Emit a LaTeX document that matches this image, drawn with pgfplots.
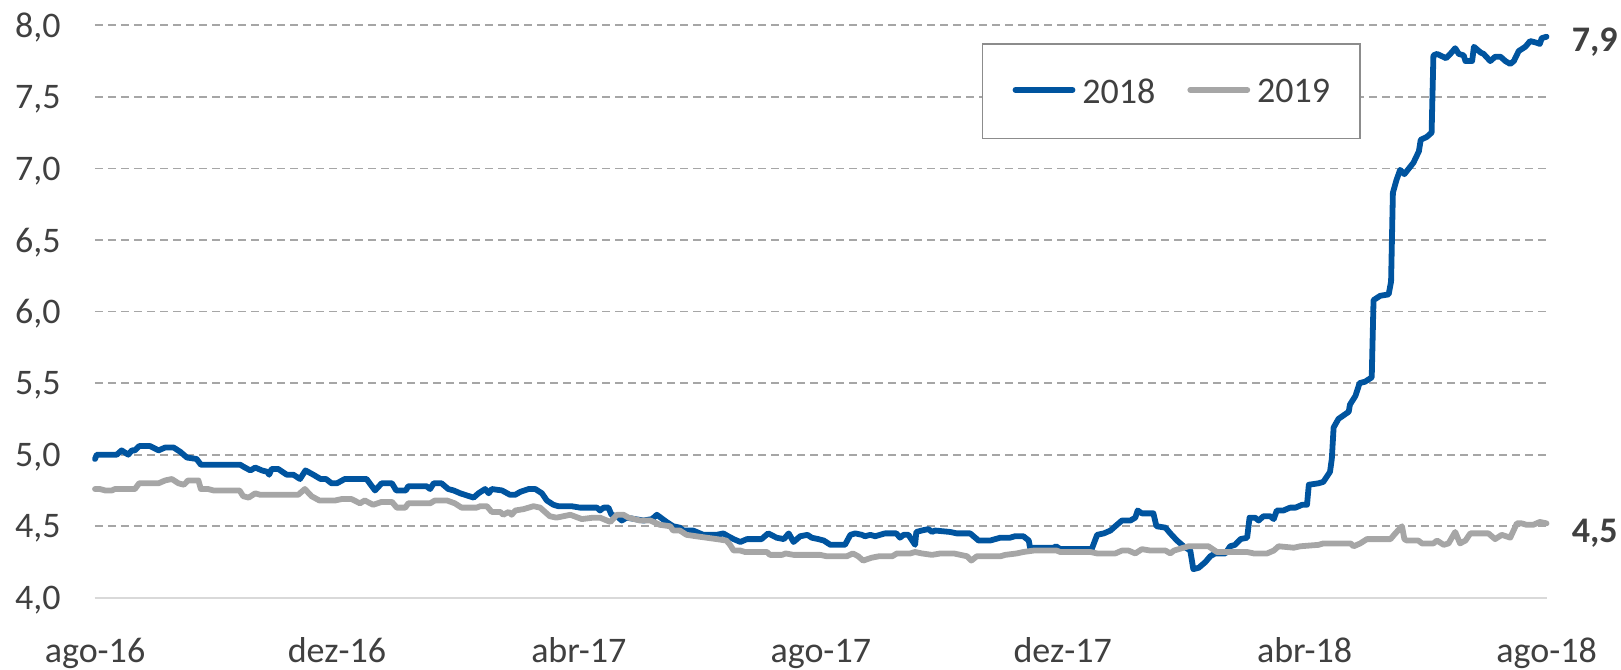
\documentclass[border=0pt]{standalone}
\usepackage{fontspec}
\setmainfont{Carlito}
\usepackage{pgfplots}
\pgfplotsset{compat=1.18}
\definecolor{blueline}{HTML}{00549F}
\definecolor{grayline}{HTML}{A6A6A6}
\definecolor{txt}{HTML}{404040}
\definecolor{gridc}{HTML}{A6A6A6}
\definecolor{axisc}{HTML}{D9D9D9}
\definecolor{legc}{HTML}{8C8C8C}
\begin{document}
\begin{tikzpicture}
\begin{axis}[
  scale only axis, width=725.75pt, height=286.25pt,
  xmin=0, xmax=24, ymin=4, ymax=8,
  clip=false,
  xtick={0,4,8,12,16,20,24},
  xticklabels={ago-16,dez-16,abr-17,ago-17,dez-17,abr-18,ago-18},
  ytick={4,4.5,5,5.5,6,6.5,7,7.5,8},
  /pgf/number format/.cd, fixed, fixed zerofill, precision=1, use comma, assume math mode=true,
  /pgfplots/.cd,
  axis x line=bottom, axis y line=left,
  x axis line style={draw=axisc, line width=0.9pt, -},
  y axis line style={draw=none},
  major tick length=0pt,
  ymajorgrids,
  grid style={gridc, dash pattern=on 4pt off 2.5pt, line width=0.9pt},
  tick label style={font=\fontsize{18}{22}\selectfont, text=txt, inner sep=0pt, text depth=0pt},
  yticklabel style={anchor=east, xshift=-17pt},
  xticklabel style={anchor=base, yshift=-32.5pt},
  legend columns=2,
  legend image code/.code={\draw[#1] (0pt,0.6pt) -- (28.5pt,0.6pt);},
  legend style={at={(0.611,0.969)}, anchor=north west, draw=legc, line width=0.75pt, fill=white,
    inner xsep=15pt, inner ysep=17.5pt, font=\fontsize{18}{22}\selectfont, text=txt,
    nodes={inner sep=0pt, text depth=0pt},
    /tikz/every odd column/.append style={column sep=3.5pt},
    /tikz/every even column/.append style={column sep=16pt}},
]
\addplot[blueline, line width=2.9pt, line join=round, line cap=round] coordinates {
(0,4.97) (0.03,5.00) (0.36,5.00) (0.44,5.03) (0.55,5.00) (0.61,5.03) (0.66,5.03) (0.73,5.06) (0.91,5.06) (1.05,5.03) (1.16,5.05) (1.30,5.05) (1.41,5.02) (1.52,4.98) (1.68,4.97) (1.75,4.93) (2.40,4.93) (2.48,4.91) (2.57,4.89) (2.65,4.91) (2.76,4.89) (2.85,4.88) (2.88,4.86) (2.92,4.90) (3.03,4.90) (3.17,4.86) (3.28,4.86) (3.39,4.83) (3.48,4.89) (3.61,4.86) (3.73,4.83) (3.82,4.83) (3.91,4.80) (4.00,4.80) (4.13,4.83) (4.49,4.83) (4.63,4.75) (4.74,4.80) (4.91,4.80) (4.98,4.75) (5.14,4.75) (5.18,4.78) (5.48,4.78) (5.54,4.76) (5.60,4.80) (5.73,4.80) (5.84,4.76) (5.93,4.75) (6.04,4.73) (6.26,4.70) (6.34,4.73) (6.45,4.76) (6.51,4.73) (6.56,4.76) (6.73,4.75) (6.86,4.72) (6.95,4.72) (7.03,4.74) (7.17,4.76) (7.28,4.76) (7.39,4.73) (7.47,4.68) (7.58,4.65) (7.66,4.64) (7.88,4.64) (8.02,4.63) (8.30,4.63) (8.35,4.61) (8.41,4.63) (8.49,4.63) (8.54,4.58) (8.63,4.57) (8.71,4.54) (8.79,4.56) (9.07,4.54) (9.21,4.55) (9.29,4.58) (9.45,4.53) (9.56,4.50) (9.67,4.49) (9.73,4.47) (9.89,4.47) (10.06,4.44) (10.28,4.44) (10.39,4.45) (10.47,4.43) (10.56,4.41) (10.67,4.39) (10.78,4.41) (11.02,4.41) (11.13,4.45) (11.27,4.42) (11.39,4.41) (11.47,4.45) (11.55,4.39) (11.66,4.43) (11.78,4.44) (11.85,4.42) (11.96,4.41) (12.05,4.40) (12.16,4.37) (12.40,4.37) (12.49,4.44) (12.57,4.45) (12.68,4.44) (12.73,4.43) (12.82,4.44) (12.90,4.43) (12.98,4.44) (13.06,4.45) (13.25,4.45) (13.31,4.42) (13.37,4.44) (13.45,4.44) (13.56,4.37) (13.58,4.46) (13.67,4.47) (13.78,4.48) (13.84,4.46) (13.89,4.47) (14.14,4.46) (14.25,4.45) (14.47,4.45) (14.61,4.40) (14.80,4.40) (14.97,4.42) (15.13,4.42) (15.21,4.43) (15.35,4.43) (15.44,4.40) (15.46,4.35) (15.85,4.35) (15.89,4.36) (15.96,4.34) (16.48,4.34) (16.57,4.44) (16.68,4.45) (16.79,4.47) (16.87,4.50) (16.98,4.54) (17.12,4.54) (17.20,4.56) (17.24,4.61) (17.31,4.59) (17.50,4.59) (17.55,4.50) (17.70,4.49) (17.78,4.45) (17.89,4.40) (18.00,4.36) (18.11,4.33) (18.16,4.20) (18.25,4.21) (18.36,4.25) (18.44,4.29) (18.52,4.31) (18.69,4.31) (18.77,4.36) (18.85,4.37) (18.94,4.41) (19.05,4.42) (19.09,4.56) (19.18,4.56) (19.24,4.54) (19.32,4.57) (19.43,4.57) (19.49,4.55) (19.54,4.61) (19.65,4.61) (19.76,4.63) (19.85,4.63) (19.96,4.65) (20.04,4.65) (20.07,4.79) (20.23,4.80) (20.31,4.81) (20.42,4.88) (20.45,4.97) (20.48,5.19) (20.56,5.25) (20.73,5.30) (20.75,5.35) (20.84,5.41) (20.91,5.50) (21.00,5.51) (21.11,5.54) (21.14,6.08) (21.25,6.11) (21.39,6.12) (21.43,6.21) (21.46,6.83) (21.52,6.92) (21.58,6.99) (21.65,6.96) (21.80,7.04) (21.89,7.12) (21.92,7.20) (22.02,7.22) (22.10,7.25) (22.13,7.79) (22.19,7.80) (22.34,7.77) (22.41,7.80) (22.49,7.84) (22.55,7.80) (22.63,7.79) (22.66,7.75) (22.77,7.75) (22.80,7.85) (22.91,7.81) (22.96,7.80) (23.07,7.75) (23.15,7.78) (23.24,7.78) (23.32,7.75) (23.40,7.73) (23.46,7.75) (23.54,7.82) (23.65,7.85) (23.73,7.89) (23.82,7.88) (23.89,7.87) (23.92,7.91) (24.00,7.92)
};
\addlegendentry{2018}
\addplot[grayline, line width=2.9pt, line join=round, line cap=round] coordinates {
(0,4.76) (0.08,4.76) (0.17,4.75) (0.28,4.75) (0.33,4.76) (0.66,4.76) (0.73,4.80) (1.05,4.80) (1.16,4.82) (1.27,4.83) (1.38,4.80) (1.47,4.79) (1.54,4.82) (1.71,4.82) (1.75,4.76) (1.87,4.76) (1.96,4.75) (2.39,4.75) (2.45,4.71) (2.54,4.70) (2.65,4.73) (2.73,4.72) (3.36,4.72) (3.47,4.76) (3.58,4.71) (3.71,4.68) (3.97,4.68) (4.08,4.69) (4.24,4.69) (4.38,4.66) (4.46,4.68) (4.60,4.65) (4.74,4.67) (4.91,4.67) (4.99,4.63) (5.13,4.63) (5.18,4.66) (5.54,4.66) (5.62,4.68) (5.82,4.68) (5.95,4.66) (6.06,4.63) (6.31,4.63) (6.37,4.64) (6.48,4.64) (6.56,4.60) (6.70,4.60) (6.75,4.58) (6.84,4.60) (6.89,4.58) (6.95,4.61) (7.09,4.62) (7.25,4.64) (7.36,4.63) (7.52,4.57) (7.63,4.56) (7.86,4.58) (8.05,4.55) (8.24,4.56) (8.35,4.56) (8.52,4.53) (8.63,4.58) (8.74,4.58) (8.82,4.56) (9.01,4.54) (9.18,4.54) (9.34,4.51) (9.51,4.50) (9.56,4.47) (9.67,4.47) (9.78,4.44) (9.94,4.43) (10.11,4.42) (10.28,4.41) (10.44,4.40) (10.50,4.37) (10.56,4.33) (10.67,4.33) (10.75,4.32) (11.11,4.32) (11.16,4.30) (11.36,4.30) (11.42,4.31) (11.55,4.30) (11.99,4.30) (12.10,4.29) (12.43,4.29) (12.53,4.31) (12.62,4.29) (12.70,4.26) (12.84,4.28) (12.96,4.29) (13.18,4.29) (13.26,4.31) (13.48,4.31) (13.56,4.32) (13.67,4.31) (13.84,4.30) (13.98,4.31) (14.20,4.31) (14.42,4.29) (14.49,4.26) (14.58,4.29) (14.97,4.29) (15.05,4.30) (15.24,4.31) (15.35,4.32) (15.52,4.33) (15.79,4.33) (15.90,4.33) (15.96,4.32) (16.46,4.32) (16.57,4.31) (16.87,4.31) (16.98,4.33) (17.09,4.33) (17.20,4.31) (17.31,4.34) (17.45,4.33) (17.70,4.33) (17.78,4.31) (17.84,4.33) (18.00,4.35) (18.08,4.36) (18.41,4.36) (18.55,4.32) (18.66,4.32) (19.05,4.32) (19.16,4.31) (19.38,4.31) (19.49,4.33) (19.57,4.36) (19.82,4.35) (19.93,4.36) (20.23,4.37) (20.31,4.38) (20.76,4.38) (20.81,4.36) (20.92,4.38) (21.03,4.41) (21.42,4.41) (21.50,4.45) (21.61,4.50) (21.65,4.41) (21.69,4.40) (21.88,4.40) (21.94,4.38) (22.13,4.38) (22.19,4.40) (22.30,4.37) (22.38,4.38) (22.49,4.46) (22.57,4.38) (22.66,4.40) (22.74,4.45) (23.04,4.45) (23.15,4.41) (23.26,4.44) (23.40,4.42) (23.51,4.52) (23.59,4.52) (23.67,4.51) (23.78,4.51) (23.89,4.53) (24.00,4.52)
};
\addlegendentry{2019}
\node[anchor=west, inner sep=0pt, text depth=0pt, xshift=12.5pt, text=txt, font=\fontsize{18}{22}\selectfont\bfseries] at (axis cs:24,7.90) {7,9};
\node[anchor=west, inner sep=0pt, text depth=0pt, xshift=12.5pt, text=txt, font=\fontsize{18}{22}\selectfont\bfseries] at (axis cs:24,4.47) {4,5};
\coordinate (O) at (rel axis cs:0,0);
\coordinate (T) at (rel axis cs:1,1);
\end{axis}
\pgfresetboundingbox
\path ([shift={(-47.5pt,-35.6pt)}]O) rectangle ([shift={(37.25pt,12.65pt)}]T);
\end{tikzpicture}
\end{document}
